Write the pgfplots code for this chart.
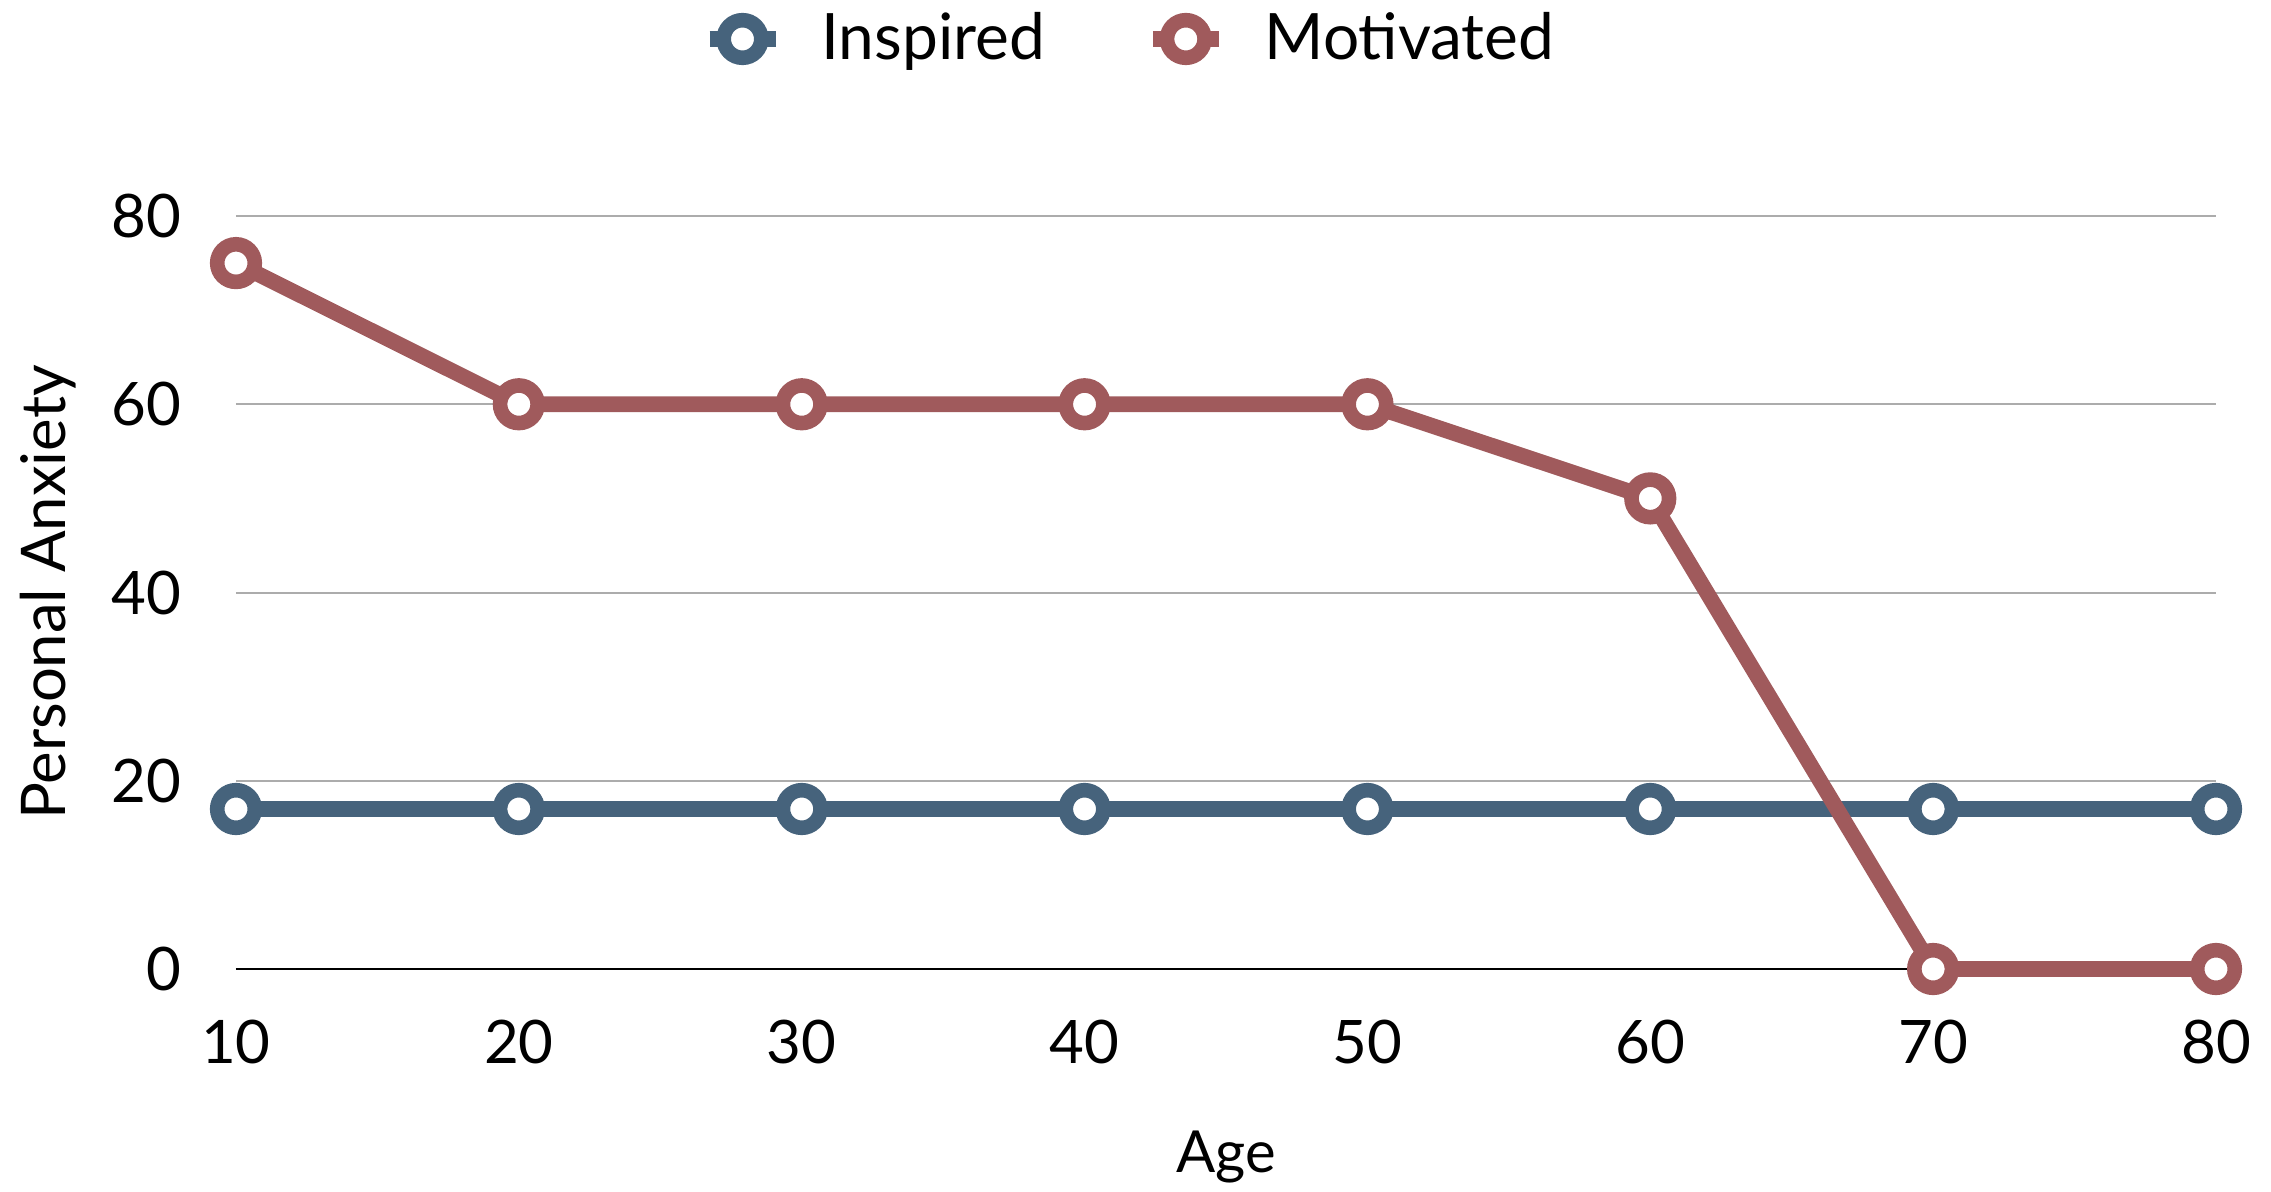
\documentclass[border=0pt]{standalone}
\usepackage{pgfplots}
\pgfplotsset{compat=1.18}
\usepackage{fontspec}
\setmainfont{Lato}
\definecolor{insp}{RGB}{70,99,124}
\definecolor{motiv}{RGB}{160,90,92}
\definecolor{gridgray}{RGB}{172,172,172}
\begin{document}
\begin{tikzpicture}
\begin{axis}[
  at={(0,0)}, anchor=south west,
  scale only axis, width=495pt, height=188.25pt,
  xmin=10, xmax=80, ymin=0, ymax=80,
  xtick={10,20,...,80}, ytick={0,20,...,80},
  ymajorgrids, major grid style={gridgray, line width=0.5pt},
  axis x line*=bottom, axis y line*=left,
  x axis line style={black, line width=0.6pt, -},
  y axis line style={draw=none},
  major tick length=0pt,
  /pgf/number format/assume math mode=true,
  tick label style={font=\fontsize{15}{18}\selectfont},
  xticklabel style={anchor=base, yshift=-23.5pt, inner sep=0pt},
  yticklabel style={anchor=east, xshift=-13.5pt, inner sep=0pt},
  xlabel={Age}, ylabel={Personal Anxiety},
  xlabel style={font=\fontsize{14.5}{17}\selectfont, at={(axis description cs:0.5,-0.2709)}, anchor=base, inner sep=0pt},
  ylabel style={font=\fontsize{15.4}{18}\selectfont, at={(axis description cs:-0.0859,0.5)}, anchor=base, inner sep=0pt},
  clip=false,
  legend columns=2,
  legend style={draw=none, fill=none, inner sep=0pt,
    at={(axis description cs:0.2348,1.2351)}, anchor=west,
    nodes={inner sep=0pt},
    font=\fontsize{16}{19}\selectfont,
    /tikz/every odd column/.append style={column sep=9.5pt},
    /tikz/every even column/.append style={column sep=25pt}},
  legend image code/.code={\draw[mark repeat=2,mark phase=2,#1] plot coordinates {(0pt,0pt)(8.25pt,0pt)(16.5pt,0pt)};},
  every axis plot/.append style={line width=3.9pt, mark=*, mark size=4.7pt,
    mark options={fill=white, line width=3.65pt, solid}},
]
\addplot[color=insp] coordinates {(10,17)(20,17)(30,17)(40,17)(50,17)(60,17)(70,17)(80,17)};
\addlegendentry{Inspired}
\addplot[color=motiv] coordinates {(10,75)(20,60)(30,60)(40,60)(50,60)(60,50)(70,0)(80,0)};
\addlegendentry{Motivated}
\end{axis}
\pgfresetboundingbox
\useasboundingbox (-59pt,-55.5pt) rectangle (508.75pt,242.25pt);
\end{tikzpicture}
\end{document}
